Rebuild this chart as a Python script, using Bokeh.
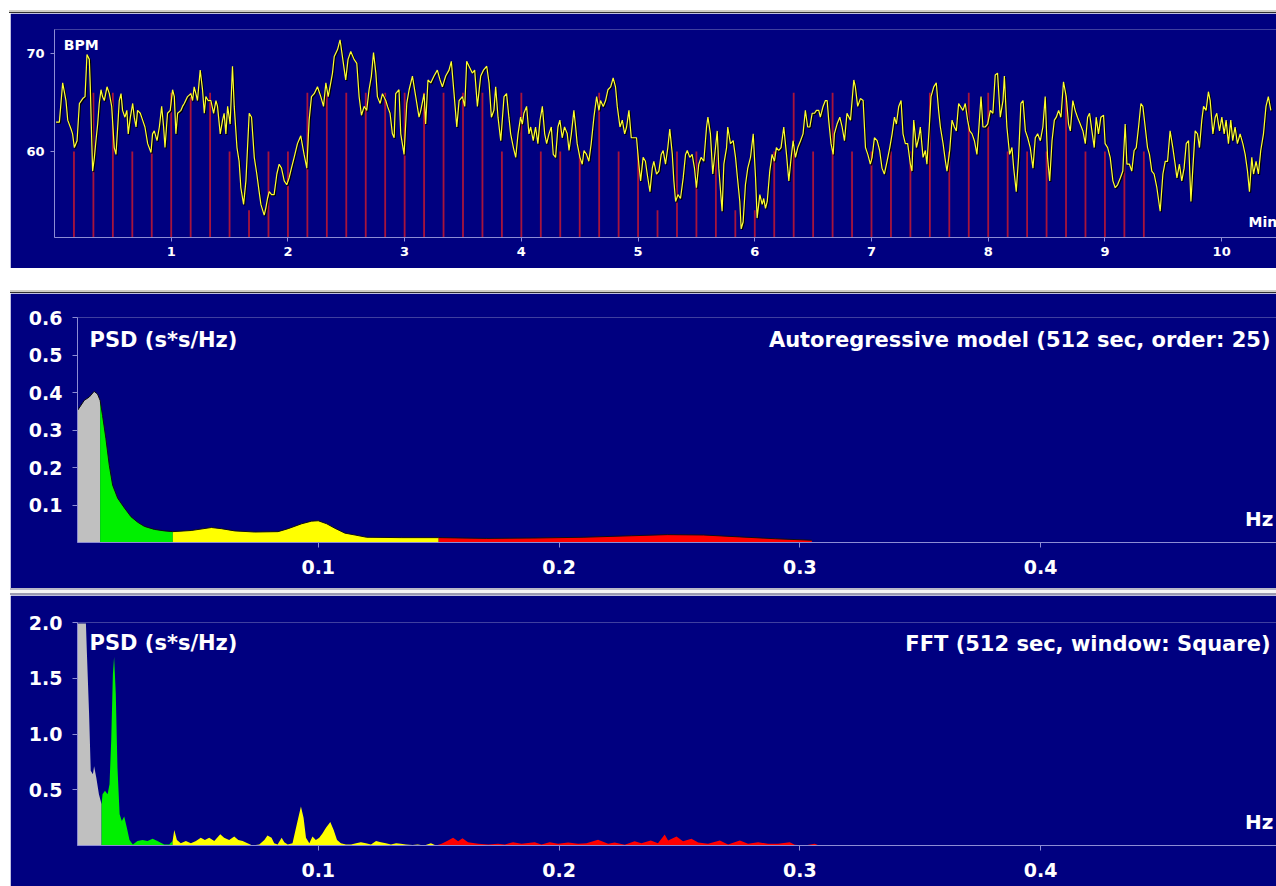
import numpy as np
from bokeh.plotting import figure
from bokeh.layouts import column, row
from bokeh.models import Range1d, FixedTicker, Spacer, Label
from bokeh.embed import file_html
from bokeh.resources import INLINE

# ---------------------------------------------------------------- data
# Heart-rate trace, three stretches (time in seconds, rate in BPM)
hr_time_a = [
    0.8, 2.5, 4.2, 5.9, 6.8, 8.5, 9.3, 10.2, 11.6, 12.8,
    14.5, 15.7, 16.7, 17.9, 18.4, 19.1, 19.6, 20.5, 21.3, 22.2,
    23.0, 23.9, 24.7, 25.6, 27.0, 28.2, 29.4, 30.7, 31.6, 32.5,
    33.3, 34.2, 35.0, 36.2, 37.2, 37.9, 39.0, 40.2, 41.0, 41.9,
    42.7, 44.1, 45.3, 46.5, 47.9, 49.6, 50.4, 51.3, 52.7, 53.9,
    55.1, 56.1, 56.8, 58.1, 59.5, 60.7, 61.6, 62.4, 63.3, 65.0,
    65.8, 66.7, 68.4, 70.1, 71.0, 71.8, 72.7, 73.5, 74.9, 76.1,
    77.0, 77.8, 79.0, 80.4, 81.8, 83.0, 83.8, 85.2, 86.4, 87.2,
    88.1, 89.0, 90.3, 91.5, 92.4, 93.8, 94.9, 95.8, 97.2, 98.4,
    100.1, 101.3, 102.7, 104.0, 105.2, 106.1, 107.8, 108.6, 109.5, 110.4,
    111.6, 112.9, 114.3, 115.5, 116.7, 118.1, 119.4, 120.6, 121.8, 123.2,
    124.9, 126.6, 128.3, 129.7, 130.9, 132.1, 133.5, 135.2, 136.9, 138.3,
    139.5, 140.7, 142.0, 142.9, 143.8, 145.5, 146.8, 148.0, 149.7, 150.9,
    152.3, 154.0, 155.4, 156.6, 157.8, 159.2, 160.5, 161.7, 162.9, 164.0,
    165.2, 166.0, 167.4, 168.6, 170.3, 171.2, 172.5, 173.7, 174.6, 175.4,
    177.1, 178.0, 179.7, 181.1, 182.3, 184.0, 185.7, 187.4,
]
hr_bpm_a = [
    63.0, 63.0, 67.0, 65.2, 63.2, 62.3, 61.8, 60.4, 61.1, 64.9,
    65.4, 65.6, 69.9, 69.4, 66.6, 61.4, 58.0, 59.4, 61.1, 62.8,
    64.9, 66.3, 65.6, 65.2, 66.6, 65.9, 64.6, 60.4, 59.7, 62.5,
    65.2, 65.9, 64.2, 63.5, 64.2, 61.8, 63.5, 64.9, 63.5, 62.5,
    64.2, 63.9, 63.2, 62.5, 60.8, 59.9, 61.8, 62.1, 61.1, 62.5,
    64.6, 62.5, 60.4, 63.9, 64.2, 66.3, 65.6, 61.8, 63.9, 64.2,
    64.6, 64.9, 65.6, 65.9, 65.2, 66.6, 65.9, 65.2, 68.3, 66.3,
    63.9, 65.6, 65.2, 65.2, 63.9, 65.2, 64.6, 61.8, 63.2, 63.9,
    61.8, 64.6, 62.8, 68.7, 64.6, 60.4, 59.0, 56.3, 54.6, 57.0,
    63.9, 63.5, 59.4, 57.7, 55.9, 54.6, 53.5, 54.2, 55.2, 55.9,
    55.6, 55.6, 57.7, 58.7, 58.3, 57.0, 56.6, 57.3, 58.3, 59.4,
    60.8, 61.6, 59.7, 58.3, 63.2, 65.6, 65.9, 66.6, 65.6, 64.6,
    67.0, 65.6, 67.0, 68.0, 69.7, 70.4, 71.4, 69.7, 67.3, 69.4,
    70.2, 69.4, 69.0, 65.6, 63.7, 64.6, 64.2, 66.3, 67.7, 70.1,
    68.0, 65.6, 64.9, 65.9, 65.2, 64.6, 63.9, 61.8, 61.4, 65.9,
    66.3, 61.8, 59.7, 64.9, 66.3, 67.7, 65.6, 63.5,
]
hr_time_b = [
    188.3, 190.0, 190.8, 192.0, 193.4, 195.1, 196.8, 198.2, 199.4, 201.1,
    202.8, 204.0, 205.4, 206.8, 208.0, 209.7, 210.9, 211.9, 213.1, 214.8,
    216.0, 217.4, 219.1, 220.5, 222.2, 223.4, 224.6, 225.9, 226.8, 228.0,
    229.4, 231.1, 232.4, 233.6, 234.5, 235.9, 237.1, 238.3, 239.6, 240.5,
    241.3, 242.7, 243.9, 244.8, 246.1, 247.3, 248.5, 249.6, 250.8, 252.0,
    253.0, 254.2, 255.4, 256.4, 257.6, 258.8, 259.8, 261.0, 262.2, 263.6,
    264.5, 265.7, 267.0, 267.9, 268.7, 270.1, 271.3, 272.2, 273.5, 274.7,
    275.9, 277.3, 278.7, 279.9, 280.7, 282.1, 283.3, 284.5, 285.9, 287.2,
    288.4, 289.3, 290.7, 291.9, 293.1, 294.1, 295.3, 296.5, 297.9, 299.2,
    300.4, 301.3, 302.6, 303.8, 304.7, 306.1, 307.3, 308.1, 309.5, 310.7,
    311.9, 312.9, 314.1, 315.3, 316.3, 317.6, 318.4, 319.3, 320.5, 321.8,
    323.2, 324.4, 325.3, 326.6, 327.8, 329.0, 330.0, 331.2, 332.4, 333.8,
    335.2, 335.9, 337.2, 338.4, 339.8, 340.7, 341.5, 343.2, 344.1, 345.5,
    346.1, 347.5, 348.9, 350.1, 350.9, 352.3, 353.0, 354.0, 355.2, 356.4,
    357.8, 359.2, 360.4, 361.2, 362.6, 363.8, 364.6, 365.5, 366.4, 367.7,
    368.9, 370.1, 371.1, 372.3, 373.5, 374.9, 376.3, 377.5, 378.7, 379.7,
    380.9, 382.1, 383.5, 384.8, 386.0, 387.2, 388.3, 389.5, 390.7, 391.7,
    392.9, 393.7, 395.1, 396.3, 397.2, 398.0, 399.2, 400.3, 400.9, 402.3,
    403.7, 404.9, 406.1, 407.4,
]
hr_bpm_b = [
    64.2, 65.9, 62.8, 67.3, 67.0, 67.7, 68.3, 67.3, 66.6, 67.7,
    68.3, 69.2, 65.9, 62.5, 65.2, 65.6, 64.6, 69.2, 68.7, 68.0,
    68.3, 64.6, 67.7, 68.3, 68.7, 67.0, 63.5, 64.2, 66.6, 63.5,
    61.1, 65.6, 65.9, 63.5, 61.8, 60.4, 59.4, 61.8, 63.5, 62.8,
    63.9, 64.6, 61.8, 62.5, 61.1, 62.5, 60.8, 63.2, 64.6, 61.8,
    60.8, 61.8, 62.5, 59.7, 59.4, 62.5, 63.2, 61.4, 62.5, 61.8,
    60.1, 61.8, 64.2, 62.5, 60.8, 59.4, 58.7, 60.1, 59.7, 59.0,
    60.8, 63.5, 65.6, 64.2, 65.2, 64.6, 65.2, 66.3, 66.6, 67.5,
    66.6, 64.6, 62.5, 63.2, 61.8, 62.5, 64.2, 61.4, 61.4, 61.4,
    58.7, 57.0, 59.4, 59.0, 57.7, 55.9, 58.3, 59.0, 57.7, 58.0,
    59.7, 60.1, 58.7, 60.4, 62.3, 59.7, 57.0, 54.9, 55.6, 55.2,
    57.3, 59.7, 60.1, 59.4, 59.7, 58.3, 56.3, 58.7, 59.4, 59.0,
    62.5, 63.5, 61.8, 57.7, 60.4, 62.1, 58.3, 53.9, 58.7, 60.4,
    62.5, 60.8, 61.1, 59.4, 57.7, 54.9, 52.1, 52.8, 56.6, 58.3,
    59.4, 61.8, 57.3, 53.2, 55.6, 54.6, 55.2, 54.2, 54.9, 58.0,
    59.7, 59.0, 60.4, 60.1, 60.4, 62.5, 59.7, 57.0, 59.4, 61.1,
    59.4, 60.4, 61.1, 61.8, 64.2, 62.5, 62.5, 63.9, 63.9, 64.2,
    64.2, 63.5, 64.6, 65.2, 65.2, 63.2, 60.8, 59.7, 61.8, 62.8,
    63.5, 62.5, 61.1, 63.9,
]
hr_time_c = [
    409.2, 410.9, 411.7, 412.9, 414.3, 415.7, 416.9, 418.1, 419.4, 420.3,
    421.5, 422.9, 424.2, 425.4, 426.6, 428.0, 429.4, 430.6, 431.8, 432.8,
    434.0, 435.2, 436.2, 437.4, 438.6, 440.0, 440.8, 441.7, 443.1, 444.3,
    445.1, 446.5, 447.7, 448.5, 449.9, 450.6, 452.0, 453.3, 454.5, 455.4,
    456.8, 458.0, 458.8, 460.2, 461.4, 462.6, 463.6, 464.8, 465.7, 467.0,
    468.2, 469.4, 470.5, 471.7, 472.9, 474.2, 475.1, 476.3, 477.3, 478.5,
    479.7, 481.1, 482.4, 483.6, 484.8, 486.2, 487.6, 488.3, 489.6, 491.0,
    492.2, 493.1, 494.4, 495.6, 496.8, 497.9, 499.1, 500.3, 501.6, 503.0,
    504.2, 505.4, 506.8, 508.1, 509.3, 510.5, 511.6, 512.8, 514.0, 515.0,
    516.2, 517.4, 518.7, 520.1, 521.3, 522.2, 523.5, 524.7, 525.9, 527.3,
    528.7, 529.9, 531.1, 532.1, 533.3, 534.5, 535.5, 536.7, 537.9, 539.3,
    540.1, 541.4, 542.7, 544.1, 545.3, 546.5, 547.9, 549.2, 550.4, 551.3,
    552.6, 553.8, 555.0, 556.1, 557.3, 558.5, 559.5, 560.7, 561.9, 562.9,
    564.1, 565.3, 566.7, 568.4, 569.8, 571.0, 572.2, 573.5, 574.9, 576.1,
    577.0, 578.3, 579.5, 580.7, 581.8, 583.0, 584.2, 585.2, 586.4, 587.6,
    588.6, 589.8, 590.7, 592.0, 593.2, 594.1, 595.5, 596.7, 597.5, 598.9,
    600.1, 601.3, 602.3, 603.5, 604.7, 605.7, 606.9, 608.1, 609.5, 610.9,
    612.1, 613.3, 614.3, 615.5, 616.4, 617.7, 618.9, 620.1, 621.5, 622.8,
    624.0, 625.3,
]
hr_bpm_c = [
    63.2, 67.3, 66.6, 64.6, 65.4, 65.2, 60.4, 59.7, 58.7, 59.4,
    61.4, 61.1, 60.1, 58.3, 57.7, 59.0, 60.4, 61.8, 63.5, 62.8,
    64.6, 65.2, 61.8, 60.8, 60.8, 58.7, 58.0, 63.2, 60.4, 61.4,
    62.5, 59.4, 60.1, 58.7, 63.2, 65.6, 66.6, 67.0, 64.2, 62.5,
    60.8, 59.0, 58.0, 60.1, 63.2, 62.5, 62.1, 64.9, 64.6, 64.2,
    64.9, 63.2, 62.1, 61.8, 61.1, 59.7, 62.1, 65.6, 62.5, 62.5,
    62.8, 64.2, 63.9, 67.8, 68.0, 63.5, 65.2, 67.7, 62.5, 59.7,
    60.4, 58.3, 55.9, 59.4, 64.9, 65.2, 62.1, 61.4, 60.4, 58.3,
    61.4, 61.8, 61.1, 62.5, 65.6, 59.4, 57.0, 61.1, 63.2, 63.5,
    64.2, 63.5, 67.1, 65.6, 62.8, 62.1, 65.2, 64.2, 63.5, 62.8,
    62.1, 60.8, 63.5, 63.9, 62.1, 60.4, 63.5, 61.8, 63.5, 63.7,
    60.8, 60.4, 59.4, 57.0, 56.3, 56.6, 57.3, 58.0, 62.8, 58.7,
    58.7, 58.0, 60.1, 60.4, 62.5, 64.9, 64.6, 62.5, 60.4, 59.7,
    58.0, 57.7, 56.3, 53.9, 57.7, 59.0, 59.0, 62.1, 60.4, 58.7,
    57.3, 58.7, 57.0, 58.3, 60.8, 61.1, 54.9, 58.3, 62.1, 61.8,
    60.4, 63.2, 64.6, 64.2, 66.1, 65.2, 61.8, 63.5, 63.9, 62.1,
    63.5, 61.8, 63.2, 60.8, 63.2, 61.1, 62.5, 60.8, 61.8, 60.8,
    59.7, 58.0, 55.9, 59.4, 57.7, 59.0, 57.7, 60.1, 61.8, 64.6,
    65.6, 64.2,
]

# Event markers (one every 10 s) and their levels in BPM
marker_time_s = [
    10, 20, 30, 40, 50, 60, 70, 80, 90, 100,
    110, 120, 130, 140, 150, 160, 170, 180, 190, 200,
    210, 220, 230, 240, 250, 260, 270, 280, 290, 300,
    310, 320, 330, 340, 350, 360, 370, 380, 390, 400,
    410, 420, 430, 440, 450, 460, 470, 480, 490, 500,
    510, 520, 530, 540, 550, 560,
]
marker_level = [
    60, 66, 66, 60, 60, 66, 66, 66, 60, 54,
    60, 60, 66, 66, 66, 66, 66, 66, 66, 66,
    66, 66, 60, 66, 60, 60, 60, 66, 60, 60,
    54, 60, 60, 60, 54, 54, 60, 66, 60, 66,
    60, 60, 60, 60, 66, 60, 66, 66, 60, 60,
    60, 66, 60, 60, 60, 60,
]
time_ticks_min = [1, 2, 3, 4, 5, 6, 7, 8, 9, 10]
bpm_ticks = [60, 70]

# Autoregressive PSD (Hz, s*s/Hz), split by band
ar_grey_f = [0.0, 0.0028, 0.0049, 0.0069, 0.0083, 0.0094]
ar_grey_p = [0.352, 0.379, 0.388, 0.403, 0.396, 0.379]
ar_green_f = [0.0104, 0.0118, 0.0132, 0.0146, 0.0167, 0.0194, 0.0222, 0.025, 0.0278, 0.0319, 0.0361, 0.0396]
ar_green_p = [0.339, 0.277, 0.206, 0.153, 0.118, 0.093, 0.069, 0.054, 0.043, 0.035, 0.031, 0.029]
ar_yellow_f = [0.0472, 0.0556, 0.0597, 0.0653, 0.0736, 0.0833, 0.0875, 0.0931, 0.0972, 0.1,
               0.1035, 0.1069, 0.1111, 0.1153, 0.1201, 0.1347, 0.15]
ar_yellow_p = [0.032, 0.040, 0.037, 0.031, 0.028, 0.029, 0.037, 0.050, 0.057, 0.058,
               0.050, 0.038, 0.025, 0.020, 0.014, 0.013, 0.013]
ar_red_f = [0.17, 0.19, 0.21, 0.23, 0.245, 0.26, 0.275, 0.29, 0.305]
ar_red_p = [0.011, 0.012, 0.014, 0.018, 0.021, 0.020, 0.015, 0.010, 0.006]
ar_ticks_y = [0.1, 0.2, 0.3, 0.4, 0.5, 0.6]

# FFT PSD (Hz, s*s/Hz), split by band
fft_grey_f = [0.0, 0.0035, 0.0039, 0.0048, 0.0055, 0.0064, 0.0069, 0.0078, 0.0089, 0.0100]
fft_grey_p = [1.99, 1.99, 1.73, 1.19, 0.67, 0.64, 0.71, 0.61, 0.46, 0.37]
fft_green_f = [0.0104, 0.0114, 0.0125, 0.0133, 0.0140, 0.0147, 0.0152, 0.0159, 0.0166, 0.0175,
               0.0184, 0.0194, 0.0205, 0.0216, 0.0230, 0.0249, 0.0270, 0.0291, 0.0312, 0.0332,
               0.0360, 0.0381, 0.0395]
fft_green_p = [0.46, 0.49, 0.46, 0.55, 0.94, 1.54, 1.69, 1.36, 0.70, 0.28,
               0.22, 0.26, 0.16, 0.05, 0.01, 0.04, 0.05, 0.04, 0.06, 0.04,
               0.01, 0.01, 0.04]
fft_yellow_f = [0.0402, 0.0413, 0.0429, 0.0450, 0.0471, 0.0492, 0.0512, 0.0529, 0.0547, 0.0568,
                0.0593, 0.0609, 0.0630, 0.0651, 0.0668, 0.0686, 0.0706, 0.0727, 0.0755, 0.0776,
                0.0789, 0.0806, 0.0817, 0.0831, 0.0848, 0.0859, 0.0873, 0.0893, 0.0914, 0.0928,
                0.0939, 0.0949, 0.0963, 0.0976, 0.0990, 0.1004, 0.1018, 0.1032, 0.1050, 0.1064,
                0.1078, 0.1094, 0.1115, 0.1136, 0.1157, 0.1177, 0.1198, 0.1219, 0.1240, 0.1260,
                0.1281, 0.1302, 0.1323, 0.1343, 0.1364, 0.1392, 0.1413, 0.1440, 0.1468, 0.1489]
fft_yellow_p = [0.14, 0.05, 0.02, 0.04, 0.02, 0.04, 0.07, 0.05, 0.07, 0.04,
                0.10, 0.07, 0.05, 0.08, 0.05, 0.04, 0.02, 0.0, 0.01, 0.05,
                0.09, 0.07, 0.02, 0.01, 0.07, 0.03, 0.01, 0.02, 0.22, 0.35,
                0.25, 0.07, 0.02, 0.08, 0.05, 0.07, 0.11, 0.16, 0.21, 0.14,
                0.05, 0.02, 0.01, 0.01, 0.02, 0.03, 0.02, 0.01, 0.04, 0.03,
                0.02, 0.01, 0.02, 0.015, 0.01, 0.005, 0.01, 0.0, 0.02, 0.0]
fft_red_f = [0.1512, 0.1539, 0.1560, 0.1581, 0.1599, 0.1622, 0.1664, 0.1706, 0.1747, 0.1775,
             0.1809, 0.1844, 0.1899, 0.1927, 0.1961, 0.1996, 0.2038, 0.2079, 0.2114, 0.2162,
             0.2204, 0.2231, 0.2273, 0.2314, 0.2342, 0.2381, 0.2411, 0.2439, 0.2453, 0.2488,
             0.2515, 0.2550, 0.2578, 0.2619, 0.2668, 0.2702, 0.2751, 0.2785, 0.2827, 0.2868,
             0.2910, 0.2958, 0.2979, 0.3020, 0.3062, 0.3080]
fft_red_p = [0.015, 0.045, 0.069, 0.039, 0.066, 0.030, 0.015, 0.009, 0.015, 0.009,
             0.030, 0.015, 0.030, 0.009, 0.030, 0.015, 0.027, 0.015, 0.021, 0.051,
             0.015, 0.027, 0.006, 0.039, 0.021, 0.045, 0.021, 0.099, 0.045, 0.081,
             0.039, 0.060, 0.027, 0.015, 0.045, 0.009, 0.045, 0.015, 0.030, 0.015,
             0.015, 0.030, 0.006, 0.0, 0.015, 0.0]
fft_ticks_y = [0.5, 1.0, 1.5, 2.0]
freq_ticks = [0.1, 0.2, 0.3, 0.4]

# ---------------------------------------------------------------- style
NAVY = "#000080"
AXIS = "#8c8cd4"
FONT = "DejaVu Sans"
BAND_COLORS = ["#c0c0c0", "#00f000", "#ffff00", "#ff0000"]


def make_fig(w, h, xr, yr, left, right, top, bottom):
    p = figure(width=w, height=h, x_range=xr, y_range=yr,
               output_backend="svg", toolbar_location=None,
               min_border_left=left, min_border_right=right,
               min_border_top=top, min_border_bottom=bottom)
    p.background_fill_color = NAVY
    p.border_fill_color = NAVY
    p.outline_line_color = None
    p.grid.visible = False
    return p


def style_axes(p, size, tick_out, stand_x, stand_y, xticks, yticks, xfmt=None, yfmt=None):
    for ax in (p.xaxis[0], p.yaxis[0]):
        ax.axis_line_color = AXIS
        ax.major_tick_line_color = AXIS
        ax.minor_tick_line_color = None
        ax.major_tick_in = 0
        ax.major_tick_out = tick_out
        ax.major_label_text_color = "white"
        ax.major_label_text_font = FONT
        ax.major_label_text_font_style = "bold"
        ax.major_label_text_font_size = f"{size}px"
    p.xaxis[0].ticker = FixedTicker(ticks=xticks)
    p.yaxis[0].ticker = FixedTicker(ticks=yticks)
    p.xaxis[0].major_label_standoff = stand_x
    p.yaxis[0].major_label_standoff = stand_y
    if xfmt:
        p.xaxis[0].major_label_overrides = {t: xfmt.format(t) for t in xticks}
    if yfmt:
        p.yaxis[0].major_label_overrides = {t: yfmt.format(t) for t in yticks}


def label(p, x, y, text, size, align="left"):
    p.add_layout(Label(x=x, y=y, text=text, text_color="white", text_font=FONT,
                       text_font_style="bold", text_font_size=f"{size}px",
                       text_align=align, text_baseline="middle"))


def draw_bands(p, bands, outline=False):
    prev = None
    for (f, v), color in zip(bands, BAND_COLORS):
        f = list(f)
        v = list(v)
        if prev is not None:
            f = [prev[0]] + f
            v = [prev[1]] + v
        p.varea(x=f, y1=0, y2=v, fill_color=color)
        if outline:
            p.line(f, v, line_color="#101010", line_width=1)
        prev = (f[-1], v[-1])


# ---------------------------------------------------------------- heart rate
hr_time_s = hr_time_a + hr_time_b + hr_time_c
hr_bpm = hr_bpm_a + hr_bpm_b + hr_bpm_c
n = min(len(hr_time_s), len(hr_bpm))
t_min = np.array(hr_time_s[:n]) / 60.0
bpm = np.array(hr_bpm[:n])

p_top = make_fig(1266, 255, Range1d(0, 10.47), Range1d(51.22, 72.45), 44, 0, 16, 31)
style_axes(p_top, 13, 4, 5, 6, time_ticks_min, bpm_ticks)

mk_min = np.array(marker_time_s) / 60.0
p_top.segment(x0=mk_min, y0=p_top.y_range.start, x1=mk_min, y1=marker_level,
              line_color="#a8143c", line_width=1.8)

px_x = 1.0 / 116.8   # one screen pixel in minutes
px_y = 1.0 / 9.8     # one screen pixel in BPM
p_top.line(t_min + px_x, bpm - px_y, line_color="#000000", line_width=1.5)
p_top.line(t_min, bpm, line_color="#ffff30", line_width=1.2)

label(p_top, 0.079, 70.87, "BPM", 14)
label(p_top, 10.23, 52.76, "Min", 14)

# ---------------------------------------------------------------- AR spectrum
p_mid = make_fig(1266, 295, Range1d(0, 0.498), Range1d(0, 0.6), 67, 0, 24, 46)
style_axes(p_mid, 19, 5, 12, 10, freq_ticks, ar_ticks_y, "{:.1f}", "{:.1f}")
draw_bands(p_mid, [(ar_grey_f, ar_grey_p), (ar_green_f, ar_green_p),
                   (ar_yellow_f, ar_yellow_p), (ar_red_f, ar_red_p)], outline=True)
label(p_mid, 0.005, 0.539, "PSD (s*s/Hz)", 21)
label(p_mid, 0.4955, 0.539, "Autoregressive model (512 sec, order: 25)", 21, "right")
label(p_mid, 0.4967, 0.064, "Hz", 20, "right")

# ---------------------------------------------------------------- FFT spectrum
p_bot = make_fig(1266, 291, Range1d(0, 0.498), Range1d(0, 2.0), 67, 0, 27, 41)
style_axes(p_bot, 19, 5, 12, 10, freq_ticks, fft_ticks_y, "{:.1f}", "{:.1f}")
draw_bands(p_bot, [(fft_grey_f, fft_grey_p), (fft_green_f, fft_green_p),
                   (fft_yellow_f, fft_yellow_p), (fft_red_f, fft_red_p)])
label(p_bot, 0.005, 1.82, "PSD (s*s/Hz)", 21)
label(p_bot, 0.4955, 1.81, "FFT (512 sec, window: Square)", 21, "right")
label(p_bot, 0.4967, 0.215, "Hz", 20, "right")


# ---------------------------------------------------------------- page
def stripe(w, h, color):
    return Spacer(width=w, height=h, styles={"background-color": color})


def gap(w, h):
    return Spacer(width=w, height=h)


page = column(
    gap(1276, 10),
    row(gap(9, 2), stripe(1267, 2, "#cfcdc6")),
    row(gap(9, 1), stripe(1267, 1, "#303030")),
    row(gap(10, 255), p_top),
    gap(1276, 22),
    row(gap(10, 2), stripe(1266, 2, "#cfcdc6")),
    row(gap(10, 1), stripe(1266, 1, "#303030")),
    row(gap(10, 295), p_mid),
    row(gap(10, 2), stripe(1266, 2, "#b8b8c8")),
    row(gap(10, 3), stripe(1266, 3, "#f4f4f4")),
    row(gap(10, 2), stripe(1266, 2, "#9a9ab0")),
    row(gap(10, 291), p_bot),
)

with open("out.html", "w") as fh:
    fh.write(file_html(page, INLINE))
